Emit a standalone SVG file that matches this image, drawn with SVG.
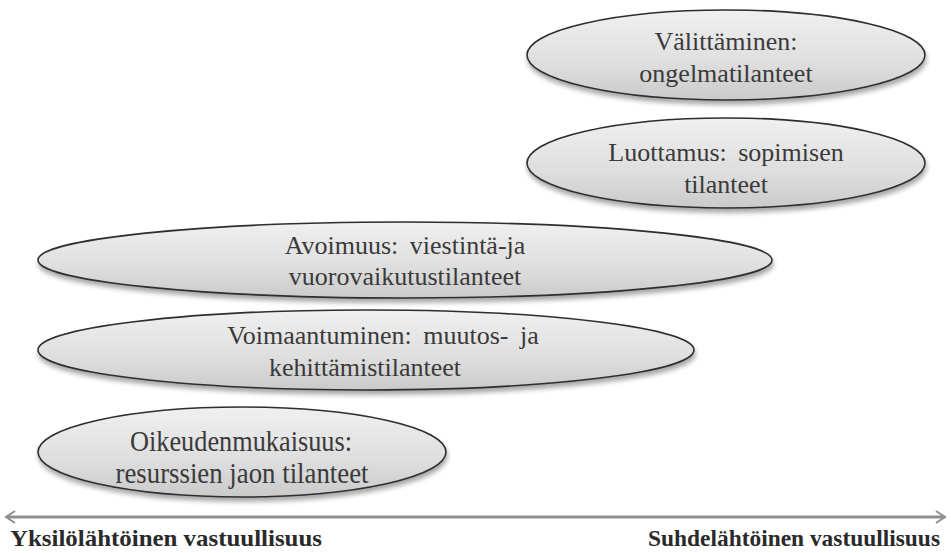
<svg xmlns="http://www.w3.org/2000/svg" width="951" height="553" viewBox="0 0 951 553">
<defs>
<linearGradient id="g" x1="0" y1="0" x2="0" y2="1">
<stop offset="0" stop-color="#f0f0f0"/>
<stop offset="0.6" stop-color="#dedede"/>
<stop offset="1" stop-color="#cacaca"/>
</linearGradient>
<filter id="sh" x="-5%" y="-20%" width="110%" height="150%">
<feGaussianBlur in="SourceAlpha" stdDeviation="2.5"/>
<feOffset dx="1" dy="4" result="b"/>
<feComponentTransfer><feFuncA type="linear" slope="0.35"/></feComponentTransfer>
<feMerge><feMergeNode/><feMergeNode in="SourceGraphic"/></feMerge>
</filter>
<marker id="ah" markerWidth="12" markerHeight="14" refX="10" refY="7" orient="auto-start-reverse" markerUnits="userSpaceOnUse">
<path d="M1,1 L10,7 L1,13" fill="none" stroke="#8f8f8f" stroke-width="2"/>
</marker>
</defs>
<style>
text{font-family:"Liberation Serif","Times New Roman",serif}
.node ellipse{fill:url(#g);stroke:#2e2e2e;stroke-width:1.6;filter:url(#sh)}
.t{font-size:26px;fill:#3a3a3a;text-anchor:middle}
.c{font-size:29px}
.lab{font-size:24px;font-weight:bold;fill:#2a2a2a}
</style>
<rect width="951" height="553" fill="#ffffff"/>
<g id="connectors">
<line x1="6" y1="517" x2="945" y2="517" stroke="#8f8f8f" stroke-width="3" marker-start="url(#ah)" marker-end="url(#ah)"/>
</g>
<g id="n1" class="node">
<ellipse cx="726" cy="55" rx="199" ry="45"/>
<text class="t" x="726" y="50">Välittäminen:</text>
<text class="t" x="726" y="82">ongelmatilanteet</text>
</g>
<g id="n2" class="node">
<ellipse cx="726" cy="163" rx="199" ry="45"/>
<text class="t" x="726" y="161" word-spacing="5">Luottamus: sopimisen</text>
<text class="t" x="726" y="193">tilanteet</text>
</g>
<g id="n3" class="node">
<ellipse cx="405" cy="260" rx="367" ry="38"/>
<text class="t" x="405" y="254" word-spacing="5">Avoimuus: viestintä-ja</text>
<text class="t" x="405" y="285">vuorovaikutustilanteet</text>
</g>
<g id="n4" class="node">
<ellipse cx="366" cy="350" rx="328" ry="40"/>
<text class="t" x="383" y="344" word-spacing="5">Voimaantuminen: muutos- ja</text>
<text class="t" x="365" y="376">kehittämistilanteet</text>
</g>
<g id="n5" class="node">
<ellipse cx="242" cy="452" rx="204" ry="45"/>
<text class="t c" x="241" y="451" textLength="222" lengthAdjust="spacingAndGlyphs">Oikeudenmukaisuus:</text>
<text class="t c" x="242" y="483" textLength="253" lengthAdjust="spacingAndGlyphs">resurssien jaon tilanteet</text>
</g>
<text class="lab" x="10" y="546" textLength="312" lengthAdjust="spacingAndGlyphs">Yksilölähtöinen vastuullisuus</text>
<text class="lab" x="648" y="546" textLength="292" lengthAdjust="spacingAndGlyphs">Suhdelähtöinen vastuullisuus</text>
</svg>
